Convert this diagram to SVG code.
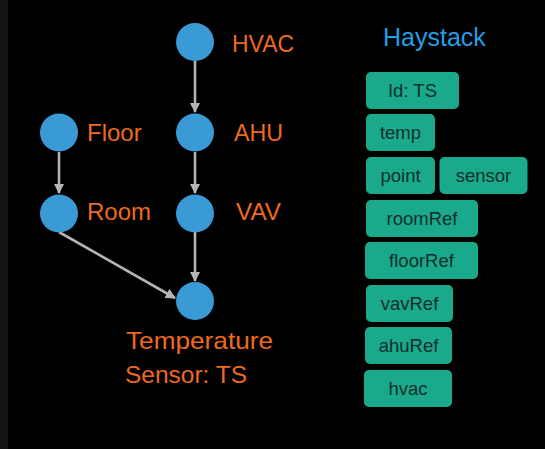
<svg xmlns="http://www.w3.org/2000/svg" width="545" height="449" viewBox="0 0 545 449">
<defs>
<style>
.n{fill:#3a9ad6}
.lbl{font-family:"Liberation Sans",Arial,sans-serif;font-size:24px;fill:#ee6a1f}
.tag{fill:#1aa98a}
.tt{font-family:"Liberation Sans",Arial,sans-serif;font-size:18.5px;fill:#10302a;text-anchor:middle}
.e{stroke:#b4b4b4;stroke-width:2.6;fill:none;marker-end:url(#ah)}
</style>
<marker id="ah" viewBox="0 0 10 10" refX="9" refY="5" markerWidth="4" markerHeight="4" orient="auto" markerUnits="strokeWidth">
<path d="M0,0 L10,5 L0,10 z" fill="#b4b4b4"/>
</marker>
</defs>
<rect x="0" y="0" width="545" height="449" fill="#000"/>
<rect x="0" y="0" width="8" height="449" fill="#141414"/>
<g id="connectors">
<line class="e" x1="195" y1="61" x2="195" y2="112"/>
<line class="e" x1="195" y1="152" x2="195" y2="193"/>
<line class="e" x1="59" y1="152" x2="59" y2="193"/>
<line class="e" x1="195" y1="232" x2="195" y2="281"/>
<line class="e" x1="59" y1="232" x2="175" y2="298"/>
</g>
<g id="HVAC"><circle class="n" cx="195" cy="42" r="19"/><text class="lbl" x="232" y="52" textLength="62" lengthAdjust="spacingAndGlyphs">HVAC</text></g>
<g id="AHU"><circle class="n" cx="195" cy="132.5" r="19"/><text class="lbl" x="234" y="141" textLength="49" lengthAdjust="spacingAndGlyphs">AHU</text></g>
<g id="Floor"><circle class="n" cx="59" cy="132.5" r="19"/><text class="lbl" x="87" y="141">Floor</text></g>
<g id="Room"><circle class="n" cx="59" cy="213.5" r="19"/><text class="lbl" x="87" y="220">Room</text></g>
<g id="VAV"><circle class="n" cx="195" cy="213.5" r="19"/><text class="lbl" x="236" y="220" textLength="45" lengthAdjust="spacingAndGlyphs">VAV</text></g>
<g id="TS"><circle class="n" cx="195" cy="301" r="19"/>
<text class="lbl" x="126" y="349" textLength="147" lengthAdjust="spacingAndGlyphs">Temperature</text>
<text class="lbl" x="125" y="383" textLength="122" lengthAdjust="spacingAndGlyphs">Sensor: TS</text></g>
<g id="haystack">
<text x="383" y="46" font-family="'Liberation Sans',Arial,sans-serif" font-size="25" fill="#229ee6">Haystack</text>
<g id="tag-id"><rect class="tag" x="366" y="72" width="93" height="37" rx="5"/><text class="tt" x="412.5" y="97">Id: TS</text></g>
<g id="tag-temp"><rect class="tag" x="366" y="114" width="69" height="37" rx="5"/><text class="tt" x="400.5" y="139">temp</text></g>
<g id="tag-point"><rect class="tag" x="366" y="157" width="69" height="37" rx="5"/><text class="tt" x="400.5" y="182">point</text></g>
<g id="tag-sensor"><rect class="tag" x="439.5" y="157" width="88" height="37" rx="5"/><text class="tt" x="483.5" y="182">sensor</text></g>
<g id="tag-roomRef"><rect class="tag" x="366" y="200" width="112" height="37" rx="5"/><text class="tt" x="422" y="225">roomRef</text></g>
<g id="tag-floorRef"><rect class="tag" x="365" y="242" width="113" height="37" rx="5"/><text class="tt" x="421.5" y="267">floorRef</text></g>
<g id="tag-vavRef"><rect class="tag" x="366" y="285" width="87" height="37" rx="5"/><text class="tt" x="409.5" y="310">vavRef</text></g>
<g id="tag-ahuRef"><rect class="tag" x="365" y="327" width="87" height="37" rx="5"/><text class="tt" x="408.5" y="352">ahuRef</text></g>
<g id="tag-hvac"><rect class="tag" x="364" y="370" width="88" height="37" rx="5"/><text class="tt" x="408" y="395">hvac</text></g>
</g>
</svg>
